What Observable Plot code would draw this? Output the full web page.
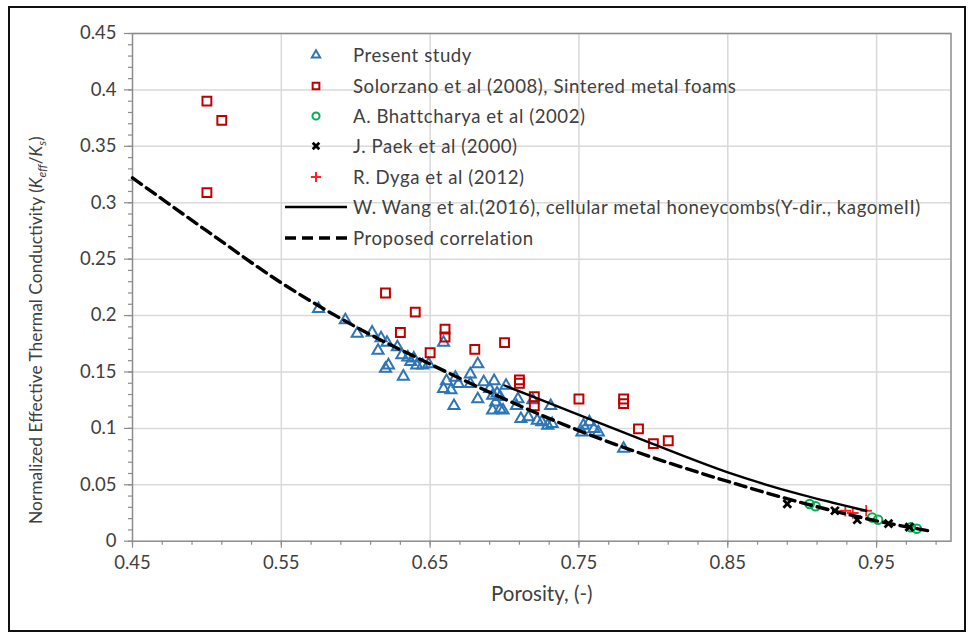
<!DOCTYPE html>
<html>
<head>
<meta charset="utf-8">
<script src="https://cdn.jsdelivr.net/npm/d3@7"></script>
<script src="https://cdn.jsdelivr.net/npm/@observablehq/plot@0.6"></script>
<style>
  body { margin: 0; background: #fff; font-family: Lato, "Open Sans", sans-serif; }
  #wrap { position: relative; width: 972px; height: 637px; overflow: hidden; }
  #frame { position: absolute; left: 8px; top: 6px; width: 958px; height: 626px; border: 2px solid #111; box-sizing: border-box; pointer-events: none; }
  #legend { position: absolute; left: 283px; top: 40px; color: #404040; font-size: 18.6px; letter-spacing: 0.55px; }
  #legend .row { display: flex; align-items: center; height: 30.4px; }
  #legend svg { width: 66px; height: 20px; margin-right: 4px; flex: none; }
</style>
</head>
<body>
<div id="wrap">
  <div id="chart"></div>
  <div id="legend"></div>
  <div id="frame"></div>
</div>
<script>
// Present study measurements: [porosity, normalized effective conductivity]
const presentStudy = [
  [0.575, 0.206], [0.593, 0.196], [0.601, 0.184], [0.611, 0.185], [0.617, 0.180],
  [0.621, 0.176], [0.615, 0.169], [0.628, 0.172], [0.622, 0.156], [0.620, 0.153],
  [0.631, 0.165], [0.635, 0.163], [0.637, 0.159], [0.641, 0.156], [0.632, 0.146],
  [0.639, 0.162], [0.645, 0.156], [0.649, 0.157], [0.659, 0.176], [0.682, 0.157],
  [0.677, 0.148], [0.661, 0.142], [0.667, 0.145], [0.669, 0.1395], [0.659, 0.135],
  [0.664, 0.134], [0.666, 0.120], [0.677, 0.1395], [0.682, 0.126], [0.686, 0.141],
  [0.693, 0.142], [0.690, 0.135], [0.692, 0.129], [0.695, 0.131], [0.697, 0.128],
  [0.694, 0.123], [0.692, 0.116], [0.697, 0.117], [0.699, 0.116], [0.701, 0.138],
  [0.709, 0.126], [0.708, 0.120], [0.711, 0.1085], [0.716, 0.110], [0.719, 0.125],
  [0.722, 0.107], [0.725, 0.1055], [0.731, 0.120], [0.729, 0.1026], [0.732, 0.104],
  [0.753, 0.1026], [0.757, 0.1055], [0.760, 0.0996], [0.763, 0.0966], [0.752, 0.0966],
  [0.780, 0.082]
];
// Solorzano et al (2008), sintered metal foams
const solorzano = [
  [0.50, 0.390], [0.51, 0.373], [0.50, 0.309], [0.62, 0.220], [0.64, 0.203],
  [0.63, 0.185], [0.65, 0.167], [0.66, 0.188], [0.66, 0.181], [0.68, 0.170],
  [0.70, 0.176], [0.71, 0.143], [0.71, 0.140], [0.72, 0.128], [0.72, 0.120],
  [0.75, 0.126], [0.78, 0.126], [0.78, 0.122], [0.79, 0.0996], [0.80, 0.0865],
  [0.81, 0.089]
];
// A. Bhattacharya et al (2002)
const bhattacharya = [
  [0.905, 0.033], [0.909, 0.031], [0.947, 0.021], [0.951, 0.019], [0.973, 0.0124], [0.977, 0.011]
];
// J. Paek et al (2000)
const paek = [
  [0.890, 0.033], [0.922, 0.027], [0.937, 0.019], [0.958, 0.0155], [0.972, 0.0125]
];
// R. Dyga et al (2012)
const dyga = [
  [0.929, 0.027], [0.934, 0.025], [0.943, 0.027]
];
// W. Wang et al. (2016), cellular metal honeycombs
const wang = [
  [0.70, 0.138], [0.75, 0.112], [0.80, 0.086], [0.85, 0.061], [0.90, 0.041], [0.943, 0.027]
];
// Proposed correlation
const proposed = [
  [0.45, 0.322], [0.50, 0.275], [0.55, 0.229], [0.60, 0.190], [0.65, 0.157],
  [0.70, 0.126], [0.75, 0.098], [0.80, 0.074], [0.85, 0.053], [0.90, 0.034],
  [0.95, 0.018], [0.986, 0.009]
];

const xTicks = [0.45, 0.55, 0.65, 0.75, 0.85, 0.95];
const yTicks = [0, 0.05, 0.1, 0.15, 0.2, 0.25, 0.3, 0.35, 0.4, 0.45];
const xMinor = d3.range(0, 28).map(i => 0.45 + i * 0.02);
const yMinor = d3.range(0, 46).map(i => i * 0.01);

const BLUE = "#2e75b6", RED = "#c00000", GREEN = "#00b050", PLUS = "#ff2020";
const AXIS = "#8c8c8c", GRID = "#d9d9d9", LABEL = "#404040";
const FONT = "Lato, 'Open Sans', sans-serif";

const plot = Plot.plot({
  width: 972,
  height: 637,
  marginLeft: 132,
  marginRight: 21.5,
  marginTop: 33,
  marginBottom: 96.3,
  style: { fontFamily: FONT, background: "transparent" },
  x: { domain: [0.45, 1.0] },
  y: { domain: [0, 0.45] },
  marks: [
    Plot.gridX(xTicks.filter(d => d > 0.45), { stroke: GRID, strokeOpacity: 1, strokeWidth: 1.5 }),
    Plot.gridY(yTicks.filter(d => d > 0), { stroke: GRID, strokeOpacity: 1, strokeWidth: 1.5 }),
    Plot.frame({ stroke: AXIS, strokeWidth: 1.5 }),
    Plot.axisX(xMinor, { anchor: "bottom", tickSize: 4, text: null, stroke: AXIS, strokeWidth: 1.2, label: null }),
    Plot.axisY(yMinor, { anchor: "left", tickSize: 4, text: null, stroke: AXIS, strokeWidth: 1.2, label: null }),
    Plot.axisX(xTicks, { anchor: "bottom", tickSize: 7, tickPadding: 8, stroke: AXIS, strokeWidth: 1.2,
      tickFormat: d => d.toFixed(2), fontSize: 18.5, fill: LABEL, label: null }),
    Plot.axisY(yTicks, { anchor: "left", tickSize: 8, tickPadding: 8, stroke: AXIS, strokeWidth: 1.2,
      tickFormat: d => String(d), fontSize: 18.5, fill: LABEL, label: null }),
    Plot.text(["Porosity, (-)"], { frameAnchor: "bottom", dy: 60, fontSize: 20.5, fill: LABEL }),

    Plot.dot(presentStudy, { x: d => d[0], y: d => d[1], symbol: "triangle", r: 4.1, stroke: BLUE, strokeWidth: 2, fill: "none" }),
    Plot.dot(solorzano, { x: d => d[0], y: d => d[1], symbol: "square", r: 5, stroke: RED, strokeWidth: 2, fill: "none" }),
    Plot.dot(bhattacharya, { x: d => d[0], y: d => d[1], symbol: "circle", r: 4.3, stroke: GREEN, strokeWidth: 2, fill: "none" }),
    Plot.dot(paek, { x: d => d[0], y: d => d[1], symbol: "times", r: 3.6, stroke: "#000", strokeWidth: 2.8 }),
    Plot.dot(dyga, { x: d => d[0], y: d => d[1], symbol: "plus", r: 3.8, stroke: PLUS, strokeWidth: 1.8 }),

    Plot.line(wang, { x: d => d[0], y: d => d[1], curve: "monotone-x", stroke: "#000", strokeWidth: 2.4 }),
    Plot.line(proposed, { x: d => d[0], y: d => d[1], curve: "monotone-x", stroke: "#000", strokeWidth: 3.4, strokeDasharray: "11,6" })
  ]
});
document.getElementById("chart").appendChild(plot);

// Rotated y-axis title with italic subscripted symbols
const svg = d3.select(plot);
const yTitle = svg.append("text")
  .attr("transform", "translate(42,524) rotate(-90)")
  .attr("text-anchor", "start")
  .attr("fill", LABEL)
  .style("font-size", "17.4px")
  .style("font-family", FONT);
yTitle.append("tspan").text("Normalized Effective Thermal Conductivity (");
yTitle.append("tspan").style("font-style", "italic").text("K");
yTitle.append("tspan").style("font-style", "italic").style("font-size", "12px").attr("dy", 4).text("eff");
yTitle.append("tspan").attr("dy", -4).text("/");
yTitle.append("tspan").style("font-style", "italic").text("K");
yTitle.append("tspan").style("font-style", "italic").style("font-size", "12px").attr("dy", 4).text("s");
yTitle.append("tspan").attr("dy", -4).text(")");

// Legend
const legendItems = [
  { label: "Present study", kind: "triangle", color: BLUE },
  { label: "Solorzano et al (2008), Sintered metal foams", kind: "square", color: RED },
  { label: "A. Bhattcharya et al (2002)", kind: "circle", color: GREEN },
  { label: "J. Paek et al (2000)", kind: "times", color: "#000" },
  { label: "R. Dyga et al (2012)", kind: "plus", color: PLUS },
  { label: "W. Wang et al.(2016), cellular metal honeycombs(Y-dir., kagomeII)", kind: "solid", color: "#000" },
  { label: "Proposed correlation", kind: "dashed", color: "#000" }
];
const legend = d3.select("#legend");
for (const item of legendItems) {
  const row = legend.append("div").attr("class", "row");
  const s = row.append("svg").attr("viewBox", "0 0 66 20");
  const cx = 33, cy = 10;
  if (item.kind === "solid" || item.kind === "dashed") {
    s.append("line").attr("x1", 2).attr("x2", 64).attr("y1", cy).attr("y2", cy)
      .attr("stroke", item.color).attr("stroke-width", item.kind === "dashed" ? 3.4 : 2.4)
      .attr("stroke-dasharray", item.kind === "dashed" ? "11,6" : null);
  } else {
    const sym = { triangle: d3.symbolTriangle, square: d3.symbolSquare, circle: d3.symbolCircle,
                  times: d3.symbolTimes, plus: d3.symbolPlus }[item.kind];
    const size = { triangle: 30, square: 45, circle: 40, times: 30, plus: 36 }[item.kind];
    s.append("path").attr("transform", `translate(${cx},${cy})`)
      .attr("d", d3.symbol(sym, size)())
      .attr("fill", "none").attr("stroke", item.color)
      .attr("stroke-width", item.kind === "times" ? 2.8 : 2);
  }
  row.append("span").text(item.label);
}
</script>
</body>
</html>
